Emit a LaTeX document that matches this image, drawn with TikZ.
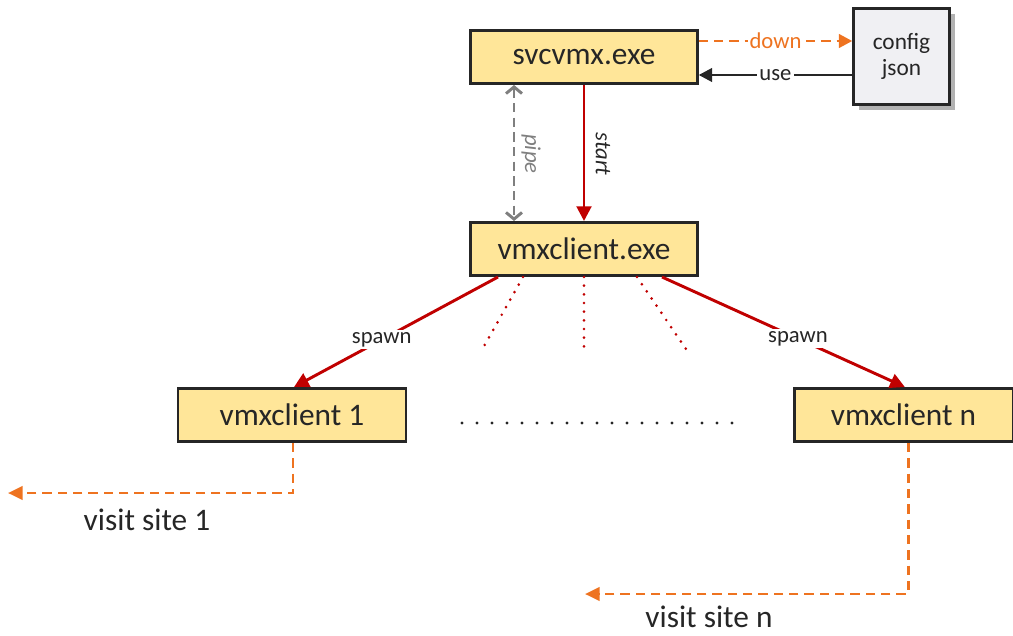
\documentclass[tikz,border=0pt]{standalone}
\usepackage{fontspec}
\setmainfont{Carlito}
\usetikzlibrary{arrows.meta,shadows}

\definecolor{boxfill}{HTML}{FFE699}
\definecolor{boxline}{HTML}{262626}
\definecolor{redline}{HTML}{C00000}
\definecolor{orangeline}{HTML}{EE7320}
\definecolor{pipegray}{HTML}{7F7F7F}
\definecolor{cfgfill}{HTML}{F0F0F3}

\begin{document}
\begin{tikzpicture}[x=0.75pt,y=-0.75pt,
  proc/.style={draw=boxline,fill=boxfill,line width=2pt,minimum width=170pt,
    minimum height=40pt,inner sep=0pt,text=boxline,font=\fontsize{23.5}{27}\selectfont},
  lbl/.style={fill=white,inner sep=1.5pt,text=boxline,font=\fontsize{17}{20}\selectfont},
  redarrow/.style={draw=redline,line width=2.2pt,-{Triangle[length=11pt,width=11pt]}},
  reddots/.style={draw=redline,line width=2.2pt,line cap=round,dash pattern=on 0pt off 6.5pt},
  visit/.style={draw=orangeline,line width=2.2pt,dash pattern=on 7pt off 4.5pt,
    -{Triangle[length=11pt,width=10pt]}}]
\useasboundingbox (0,0) rectangle (1013,635);

% boxes
\node[proc] (svc) at (584,57) {svcvmx.exe};
\node[proc] (cli) at (584,249) {vmxclient.exe};
\node[proc,minimum width=171pt] (c1) at (292,415) {vmxclient 1};
\node[proc,minimum width=164pt] (cn) at (903.5,415) {vmxclient n};
\node[draw=boxline,fill=cfgfill,line width=1.8pt,minimum width=72pt,minimum height=72pt,
  align=center,text=boxline,font=\fontsize{17.5}{20}\selectfont,
  drop shadow={shadow xshift=4pt,shadow yshift=-4pt,fill=black,opacity=0.3}]
  (cfg) at (901.5,56.5) {config\\json};

% svcvmx <-> config
\coordinate (dn) at (0,41);
\coordinate (us) at (0,75);
\draw[orangeline,line width=2.2pt,dash pattern=on 7pt off 4.5pt,-{Triangle[length=10pt,width=10pt]}]
  (svc.east |- dn) -- node[lbl,text=orangeline] (down) {down} (cfg.west |- dn);
\draw[boxline,line width=2pt,-{Triangle[length=10pt,width=10pt]}]
  (cfg.west |- us) -- node[lbl] (use) {use} (svc.east |- us);

% svcvmx -> vmxclient.exe
\draw[redarrow] (svc.south) -- (cli.north);
\node[lbl,fill=none,rotate=-90,font=\fontsize{17}{20}\selectfont\itshape] (start) at (603,154) {start};
\coordinate (pipe) at (514,150);
\draw[pipegray,line width=2.2pt,dash pattern=on 7pt off 4pt,
  {Straight Barb[length=5pt,width=12pt]}-{Straight Barb[length=5pt,width=12pt]}]
  (pipe |- svc.south) -- (pipe |- cli.north);
\node[lbl,fill=none,rotate=-90,text=pipegray,font=\fontsize{17}{20}\selectfont\itshape] (pipetxt) at (531,154) {pipe};

% spawn
\draw[redarrow] ([xshift=-64.5pt]cli.south) -- node[lbl,pos=0.57] (sp1) {spawn} ([xshift=1.5pt]c1.north);
\draw[redarrow] ([xshift=58.5pt]cli.south) -- node[lbl,pos=0.56] (spn) {spawn} ([xshift=1pt]cn.north);
\coordinate (d1) at (483,348);
\coordinate (d2) at (584,349);
\coordinate (d3) at (688,352);
\draw[reddots] ([xshift=-45.75pt]cli.south) -- (d1);
\draw[reddots] (cli.south) -- (d2);
\draw[reddots] ([xshift=39.75pt]cli.south) -- (d3);
\foreach \i in {0,...,18}
  \fill[boxline] (462+15*\i,423) circle (1.2pt);

% visit
\coordinate (v1) at (8,493);
\coordinate (vn) at (585,594);
\draw[visit] ([xshift=0.75pt]c1.south) |- (v1);
\draw[visit] ([xshift=3.4pt]cn.south) |- (vn);
\node[text=boxline,font=\fontsize{23.5}{27}\selectfont] (site1) at (147,520) {visit site 1};
\node[text=boxline,font=\fontsize{23.5}{27}\selectfont] (siten) at (709,617) {visit site n};
\end{tikzpicture}
\end{document}
